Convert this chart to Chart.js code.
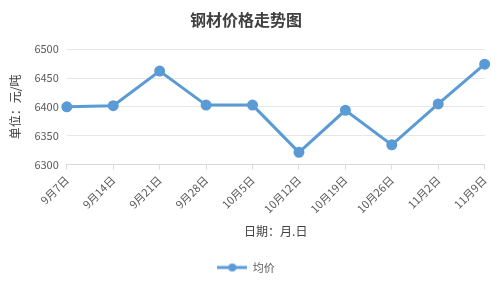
<!DOCTYPE html>
<html><head><meta charset="utf-8">
<script src="https://cdn.jsdelivr.net/npm/chart.js@4/dist/chart.umd.min.js"></script>
<style>html,body{margin:0;padding:0;background:#fff}#w{width:498px;height:283px}</style>
</head><body><div id="w"><canvas id="c"></canvas></div>
<script>
const categories = ['9月7日','9月14日','9月21日','9月28日','10月5日','10月12日','10月19日','10月26日','11月2日','11月9日'];
const prices = [6400, 6402, 6462, 6403, 6403, 6321, 6394, 6334, 6405, 6474];
const seriesName = '均价';
const font = '"Noto Sans CJK SC", "Microsoft YaHei", sans-serif';
const color = '#5B9BD5';
const icon = document.createElement('canvas');
icon.width = 30; icon.height = 10;
(function(){ const g = icon.getContext('2d'); g.strokeStyle = color; g.lineWidth = 3; g.beginPath(); g.moveTo(0,5); g.lineTo(30,5); g.stroke(); g.fillStyle = color; g.beginPath(); g.arc(15,5,4,0,Math.PI*2); g.fill(); })();
new Chart(document.getElementById('c'), {
  type: 'line',
  data: { labels: categories, datasets: [{
    label: seriesName, data: prices, borderColor: color, backgroundColor: color,
    borderWidth: 3, pointRadius: 4, pointHoverRadius: 4, tension: 0, fill: false, pointStyle: 'circle'
  }]},
  options: {
    responsive: true, maintainAspectRatio: false, animation: false,
    layout: { padding: { left: 4, right: 10, top: 4, bottom: 0 } },
    plugins: {
      title: { display: true, text: '钢材价格走势图', color: '#404040', font: { family: font, size: 16, weight: 'bold' }, padding: { top: 6, bottom: 20 } },
      legend: { position: 'bottom', labels: { usePointStyle: true, pointStyleWidth: 30, color: '#595959', font: { family: font, size: 11 }, padding: 10,
        generateLabels: (chart) => [{ text: seriesName, pointStyle: icon, fillStyle: color, strokeStyle: color, lineWidth: 0, hidden: false, datasetIndex: 0, fontColor: '#595959' }] } },
      tooltip: { enabled: false }
    },
    scales: {
      x: {
        offset: false,
        grid: { display: true, drawOnChartArea: false, drawTicks: true, tickLength: 5, color: '#D9D9D9' },
        border: { color: '#D9D9D9' },
        ticks: { color: '#595959', font: { family: font, size: 11 }, maxRotation: 45, minRotation: 45, padding: 4 },
        title: { display: true, text: '日期：月.日', color: '#404040', font: { family: font, size: 12 }, padding: { top: 5, bottom: 13 } }
      },
      y: {
        min: 6300, max: 6500,
        grid: { color: '#E6E6E6', drawTicks: false },
        border: { display: false },
        ticks: { stepSize: 50, color: '#595959', font: { family: font, size: 11 }, padding: 8, callback: (v) => String(v) },
        title: { display: true, text: '单位：元/吨', color: '#404040', font: { family: font, size: 12 } }
      }
    }
  }
});
</script></body></html>
